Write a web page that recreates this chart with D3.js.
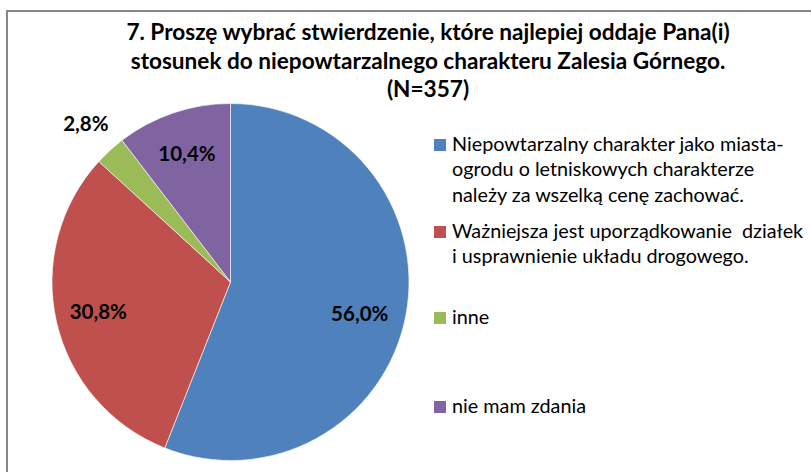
<!DOCTYPE html>
<html><head><meta charset="utf-8">
<script src="https://cdn.jsdelivr.net/npm/d3@7"></script>
<style>html,body{margin:0;padding:0;background:#fff;} text{white-space:pre;}</style>
</head><body>
<svg id="c" width="811" height="472"></svg>
<script>
const titleLines = [
  "7. Proszę wybrać stwierdzenie, które najlepiej oddaje Pana(i)",
  "stosunek do niepowtarzalnego charakteru Zalesia Górnego.",
  "(N=357)"
];
const categories = [
  "Niepowtarzalny charakter jako miasta-ogrodu o letniskowych charakterze należy za wszelką cenę zachować.",
  "Ważniejsza jest uporządkowanie  działek i usprawnienie układu drogowego.",
  "inne",
  "nie mam zdania"
];
const legendLines = [
  ["Niepowtarzalny charakter jako miasta-", "ogrodu o letniskowych charakterze", "należy za wszelką cenę zachować."],
  ["Ważniejsza jest uporządkowanie  działek", "i usprawnienie układu drogowego."],
  ["inne"],
  ["nie mam zdania"]
];
const values = [56.0, 30.8, 2.8, 10.4];
const colors = ["#4F81BD", "#C0504D", "#9BBB59", "#8064A2"];

const svg = d3.select("#c");
const font = "Lato, 'Open Sans', sans-serif";

// chart border
svg.append("rect").attr("x", 7).attr("y", 11).attr("width", 900).attr("height", 600)
  .attr("fill", "none").attr("stroke", "#868686").attr("stroke-width", 2);

// title
svg.append("g").selectAll("text").data(titleLines).join("text")
  .attr("x", 428).attr("y", (d, i) => 40 + i * 28.5)
  .attr("text-anchor", "middle")
  .attr("font-family", font).attr("font-weight", "bold").attr("font-size", 22.6)
  .attr("fill", "#000").text(d => d);

// pie
const cx = 230.5, cy = 282, R = 178.5;
const pie = d3.pie().sort(null).value(d => d);
const arcs = pie(values);
const arc = d3.arc().innerRadius(0).outerRadius(R);
const g = svg.append("g").attr("transform", `translate(${cx},${cy})`);
g.selectAll("path").data(arcs).join("path")
  .attr("d", arc).attr("fill", (d, i) => colors[i])
  .attr("stroke", "#fff").attr("stroke-width", 0.6);

const loc = d3.formatLocale({decimal: ",", thousands: " ", grouping: [3], currency: ["", ""]});
const fmt = v => loc.format(".1f")(v) + "%";
const inArc = d3.arc().innerRadius(R * 0.76).outerRadius(R * 0.76);
const outArc = d3.arc().innerRadius(R * 1.2).outerRadius(R * 1.2);
g.selectAll("text").data(arcs).join("text")
  .attr("transform", d => {
    const c = (d.data < 5 ? outArc : inArc).centroid(d);
    const dy = d.data > 50 ? 14 : 7;
    return `translate(${c[0] - (d.data > 50 ? 4 : 0)},${c[1] + dy})`;
  })
  .attr("text-anchor", "middle")
  .attr("font-family", font).attr("font-weight", "bold").attr("font-size", 20.5)
  .attr("fill", "#000").text(d => fmt(d.data));

// legend
const sqTops = [139, 226, 312, 401];
const lg = svg.append("g");
legendLines.forEach((lines, i) => {
  lg.append("rect").attr("x", 434).attr("y", sqTops[i]).attr("width", 12).attr("height", 12)
    .attr("fill", colors[i]);
  lg.append("text").attr("font-family", font).attr("font-size", 19.8).attr("fill", "#000")
    .selectAll("tspan").data(lines).join("tspan")
    .attr("x", 452).attr("y", (d, j) => sqTops[i] + 11.5 + j * 25.5)
    .text(d => d);
});
</script>
</body></html>
